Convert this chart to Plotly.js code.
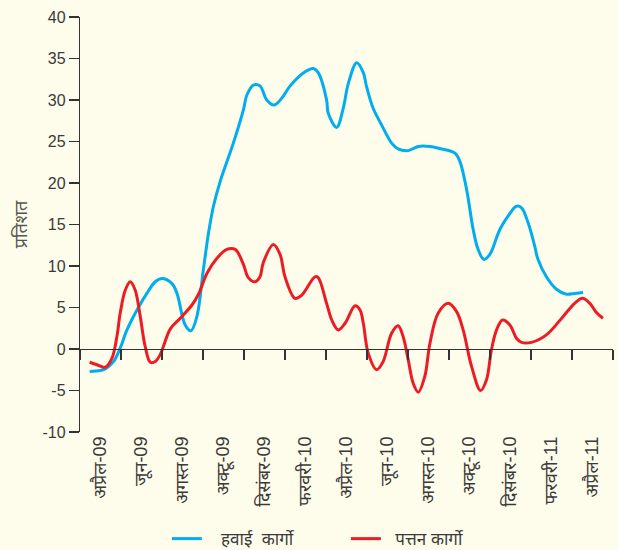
<!DOCTYPE html>
<html>
<head>
<meta charset="utf-8">
<script src="https://cdn.plot.ly/plotly-3.0.1.min.js"></script>
<style>html,body{margin:0;padding:0;background:#fefcea;}</style>
</head>
<body>
<div id="chart" style="width:618px;height:550px;"></div>
<script>
// x positions are in months along the axis (axis spans 0..26, tick every 2 months)
const airX = [0.47,0.99,1.23,1.64,1.96,2.29,2.78,3.26,3.67,4.00,4.48,4.73,5.13,5.41,5.70,6.02,6.27,6.51,6.84,7.48,7.97,8.14,8.46,8.78,9.11,9.47,9.84,10.25,10.98,11.38,11.62,12.03,12.11,12.52,12.84,13.09,13.50,13.82,13.98,14.30,14.71,15.20,15.52,16.01,16.50,17.07,17.64,18.29,18.53,18.86,19.18,19.42,19.70,19.99,20.32,20.48,20.88,21.29,21.54,21.86,22.18,22.34,22.75,23.24,23.73,24.13,24.54];
const airY = [-2.7,-2.6,-2.4,-1.5,0.1,2.3,4.7,6.7,8.1,8.5,7.9,6.7,2.9,2.2,3.9,9.6,14.0,17.2,20.2,24.8,28.8,30.6,31.8,31.7,30.0,29.4,30.2,31.7,33.4,33.8,33.3,30.0,28.4,26.7,29.0,32.0,34.5,33.3,31.6,29.0,27.0,24.8,24.1,23.9,24.4,24.4,24.1,23.6,22.6,19.2,14.4,12.0,10.8,11.4,13.4,14.4,16.0,17.2,17.0,15.2,12.4,10.8,8.7,7.2,6.6,6.7,6.8];

const portX = [0.47,0.83,1.23,1.56,1.80,1.96,2.21,2.45,2.69,2.94,3.18,3.43,3.67,3.91,4.40,4.89,5.46,5.78,6.19,6.67,7.16,7.57,7.97,8.21,8.54,8.78,8.94,9.43,9.76,10.00,10.49,10.82,11.46,11.62,12.03,12.28,12.60,12.93,13.42,13.66,13.82,14.06,14.47,14.79,15.20,15.52,15.76,16.01,16.25,16.50,16.82,17.07,17.47,17.96,18.37,18.69,19.10,19.54,19.83,20.07,20.32,20.61,20.97,21.29,21.54,22.02,22.75,23.56,24.13,24.51,24.87,25.19,25.51];
const portY = [-1.6,-1.9,-2.2,-1.1,1.5,4.3,7.1,8.1,7.1,3.9,0.3,-1.6,-1.5,-0.7,2.4,3.7,5.3,6.6,9.1,10.9,12.0,12.0,10.2,8.6,8.1,8.7,10.4,12.6,11.4,8.7,6.1,6.5,8.7,8.6,5.5,3.5,2.3,3.1,5.2,4.7,3.1,-0.5,-2.5,-1.5,1.9,2.8,1.5,-1.3,-4.1,-5.2,-3.3,0.7,4.3,5.5,4.5,2.3,-2.1,-5.0,-3.7,-0.1,2.3,3.5,2.9,1.3,0.8,0.8,1.7,3.9,5.5,6.1,5.5,4.4,3.7];

const tickPos = [0,2,4,6,8,10,12,14,16,18,20,22,24,26];
const labelPos = [1,3,5,7,9,11,13,15,17,19,21,23,25];
const labelText = ['अप्रैल-09','जून-09','अगस्त-09','अक्टू-09','दिसंबर-09','फरवरी-10','अप्रैल-10','जून-10','अगस्त-10','अक्टू-10','दिसंबर-10','फरवरी-11','अप्रैल-11'];
const yTickVals = [-10,-5,0,5,10,15,20,25,30,35,40];
const yTickText = ['-10','-5','0','5','10','15','20','25','30','35','40'];
const seriesNames = ['\u00a0\u00a0\u00a0हवाई\u00a0\u00a0कार्गो','\u00a0\u00a0पत्तन कार्गो'];
const yTitle = 'प्रतिशत';

const bg = '#fefcea';
const axisColor = '#333333';
const textColor = '#3a3a3a';
const fontFam = 'Liberation Sans, Arial, Noto Sans, sans-serif';

const traces = [
  {x: airX, y: airY, type: 'scatter', mode: 'lines', name: seriesNames[0],
   line: {color: '#00aeef', width: 3, shape: 'spline', smoothing: 1}, xaxis: 'x', yaxis: 'y'},
  {x: portX, y: portY, type: 'scatter', mode: 'lines', name: seriesNames[1],
   line: {color: '#ed1c24', width: 3, shape: 'spline', smoothing: 1}, xaxis: 'x', yaxis: 'y'},
  {x: [null], y: [null], type: 'scatter', mode: 'lines', showlegend: false, hoverinfo: 'skip',
   xaxis: 'x2', yaxis: 'y'}
];

const layout = {
  width: 618, height: 550,
  paper_bgcolor: bg, plot_bgcolor: bg,
  margin: {l: 80, r: 5, t: 17, b: 118, autoexpand: false},
  font: {family: fontFam, color: textColor, size: 14},
  showlegend: true,
  legend: {orientation: 'h', x: 0.163, xanchor: 'left', y: -0.258, yanchor: 'middle',
           bgcolor: 'rgba(0,0,0,0)', font: {size: 17, color: textColor},
           entrywidth: 134, entrywidthmode: 'pixels'},
  xaxis: {range: [0, 26], tickmode: 'array', tickvals: tickPos, showticklabels: false,
          ticks: 'outside', ticklen: 10, tickcolor: axisColor, tickwidth: 1.2,
          showline: true, linecolor: axisColor, linewidth: 1.2,
          showgrid: false, zeroline: false, anchor: 'free', position: 0.2},
  xaxis2: {range: [0, 26], overlaying: 'x', anchor: 'y', side: 'bottom',
           tickmode: 'array', tickvals: labelPos, ticktext: labelText, tickangle: -90,
           ticks: '', showline: false, showgrid: false, zeroline: false,
           tickfont: {size: 18, color: textColor}},
  yaxis: {range: [-10, 40], tickmode: 'array', tickvals: yTickVals, ticktext: yTickText,
          ticks: 'outside', ticklen: 10, tickcolor: axisColor, tickwidth: 1.2,
          showline: true, linecolor: axisColor, linewidth: 1.2,
          showgrid: false, zeroline: false,
          tickfont: {size: 16, color: textColor},
          title: {text: yTitle, font: {size: 18, color: '#555555'}, standoff: 10}}
};

Plotly.newPlot('chart', traces, layout, {displayModeBar: false, staticPlot: true});
</script>
</body>
</html>
